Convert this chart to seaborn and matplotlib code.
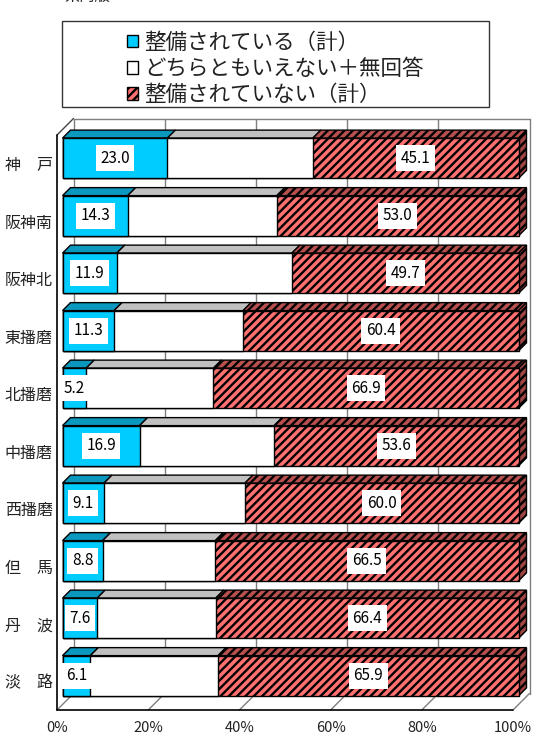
import numpy as np
import matplotlib
matplotlib.use("Agg")
import matplotlib.pyplot as plt
import matplotlib.transforms as mtransforms
from matplotlib.patches import Polygon, Rectangle, Patch
from matplotlib.lines import Line2D
import seaborn as sns

# --- data -------------------------------------------------------------
regions = ["神　戸", "阪神南", "阪神北", "東播磨", "北播磨",
           "中播磨", "西播磨", "但　馬", "丹　波", "淡　路"]
maintained = [23.0, 14.3, 11.9, 11.3, 5.2, 16.9, 9.1, 8.8, 7.6, 6.1]
neutral = [31.9, 32.7, 38.4, 28.3, 27.9, 29.5, 30.9, 24.7, 26.0, 28.0]
not_maintained = [45.1, 53.0, 49.7, 60.4, 66.9, 53.6, 60.0, 66.5, 66.4, 65.9]
series_names = ["整備されている（計）", "どちらともいえない＋無回答", "整備されていない（計）"]
xticks = [0, 20, 40, 60, 80, 100]
xtick_labels = ["0%", "20%", "40%", "60%", "80%", "100%"]

# --- style ------------------------------------------------------------
sns.set_style("white")
plt.rcParams["font.family"] = ["Noto Sans CJK JP", "DejaVu Sans"]
plt.rcParams["hatch.linewidth"] = 1.7

BLUE, BLUE_TOP = "#00CCFF", "#0A98BE"
WHITE, GRAY_TOP = "#FFFFFF", "#C0C0C0"
RED, RED_TOP, RED_SIDE = "#FF7070", "#B85050", "#A04444"
HATCH = "////"
TXT = "#222222"

W, H, DPI = 534, 738, 100
fig = plt.figure(figsize=(W / DPI, H / DPI), dpi=DPI)
fig.patch.set_facecolor("white")

# front plane of the 3-D box
ax = fig.add_axes([57 / W, 28 / H, 456 / W, 575 / H])
ax.set_facecolor("none")

BAR_W = 0.70
F = 5.5    # bar front face depth offset (px)
B = 13.5   # bar back face depth offset (px)
WALL = 16.5  # back wall depth offset (px)

# cumulative layers drawn back to front
blue_arr = np.array(maintained)
mid_arr = blue_arr + np.array(neutral)
tot_arr = mid_arr + np.array(not_maintained)

layers = [
    (tot_arr, RED, HATCH),
    (mid_arr, WHITE, None),
    (blue_arr, BLUE, None),
]
front_trans = mtransforms.offset_copy(ax.transData, fig=fig, x=F, y=F, units="dots")
for vals, col, hatch in layers:
    kw = dict(hatch=hatch) if hatch else {}
    sns.barplot(x=vals, y=regions, orient="h", width=BAR_W, color=col,
                saturation=1, edgecolor="black", linewidth=1.0,
                errorbar=None, ax=ax, **kw)
    for p in ax.containers[-1]:
        p.set_transform(front_trans)
        p.set_clip_on(False)
        p.set_zorder(3)

ax.set_xlim(0, 100)
ax.set_ylim(len(regions) - 0.5, -0.5)
for s in ax.spines.values():
    s.set_visible(False)


def px(x, y, d=0.0):
    p = ax.transData.transform((x, y))
    return (p[0] + d, p[1] + d)


ident = mtransforms.IdentityTransform()


def poly(pts, fc, hatch=None, z=2):
    pg = Polygon(pts, closed=True, facecolor=fc, edgecolor="black",
                 linewidth=1.0, hatch=hatch, transform=ident, zorder=z,
                 clip_on=False)
    ax.add_artist(pg)


def seg(p0, p1, color, lw=1.0, z=0.5):
    ax.add_artist(Line2D([p0[0], p1[0]], [p0[1], p1[1]], color=color, lw=lw,
                         transform=ident, zorder=z, clip_on=False))


# --- box walls, floor and gridlines -----------------------------------
GRID = "#7F7F7F"
y_top, y_bot = -0.5, len(regions) - 0.5
for xv in xticks:
    seg(px(xv, y_bot, WALL), px(xv, y_top, WALL), GRID)
    seg(px(xv, y_bot), px(xv, y_bot, WALL), GRID)
seg(px(0, y_top, WALL), px(100, y_top, WALL), GRID)          # back wall top
seg(px(0, y_top), px(0, y_top, WALL), "#444444")             # left wall top
seg(px(0, y_top), px(0, y_bot), "black", 1.2, 0.6)           # left wall front
seg(px(0, y_bot), px(100, y_bot), "black", 1.2, 0.6)         # floor front

# --- 3-D faces of the bars --------------------------------------------
for i in range(len(regions)):
    yt = i - BAR_W / 2
    yb = i + BAR_W / 2
    segs = [(0, blue_arr[i], BLUE_TOP, None),
            (blue_arr[i], mid_arr[i], GRAY_TOP, None),
            (mid_arr[i], tot_arr[i], RED_TOP, HATCH)]
    for x0, x1, fc, h in segs:
        poly([px(x0, yt, F), px(x1, yt, F), px(x1, yt, B), px(x0, yt, B)], fc, h)
    xe = tot_arr[i]
    poly([px(xe, yt, F), px(xe, yb, F), px(xe, yb, B), px(xe, yt, B)],
         RED_SIDE, HATCH)

# --- value labels -----------------------------------------------------
box = dict(boxstyle="square,pad=0.3", facecolor="white", edgecolor="none")
for i in range(len(regions)):
    ax.text(maintained[i] / 2, i, f"{maintained[i]:.1f}", transform=front_trans,
            ha="center", va="center", fontsize=11, color="black",
            bbox=box, zorder=6, clip_on=False)
    ax.text(tot_arr[i] - not_maintained[i] / 2, i, f"{not_maintained[i]:.1f}",
            transform=front_trans, ha="center", va="center", fontsize=11,
            color="black", bbox=box, zorder=6, clip_on=False)

# --- axes text --------------------------------------------------------
ax.set_xticks(xticks)
ax.set_xticklabels(xtick_labels, fontsize=10.5, color=TXT)
ax.set_yticks(range(len(regions)))
ax.set_yticklabels(regions, fontsize=11.5, color=TXT)
ax.tick_params(axis="x", length=0, pad=8)
ax.tick_params(axis="y", length=0, pad=3)
ax.set_xlabel("")
ax.set_ylabel("")

# --- legend -----------------------------------------------------------
handles = [
    Patch(facecolor=BLUE, edgecolor="black", linewidth=1.0),
    Patch(facecolor=WHITE, edgecolor="black", linewidth=1.0),
    Patch(facecolor=RED, edgecolor="black", linewidth=1.0, hatch=HATCH),
]
fig.legend(handles, series_names, loc="upper left",
           bbox_to_anchor=(127 / W, 1 - 32 / H), frameon=False,
           fontsize=15.5, handlelength=0.5, handleheight=0.5,
           handletextpad=0.3, labelspacing=0.19, borderpad=0,
           borderaxespad=0, labelcolor=TXT)
fig.add_artist(Rectangle((62 / W, 1 - 107 / H), 427 / W, 86 / H,
                         transform=fig.transFigure, fill=False,
                         edgecolor="#333333", linewidth=1.0))

fig.text(64 / W, 1 - 5 / H, "県内版", fontsize=11, color=TXT,
         ha="left", va="bottom")

fig.savefig("out.png", dpi=DPI, facecolor="white")
